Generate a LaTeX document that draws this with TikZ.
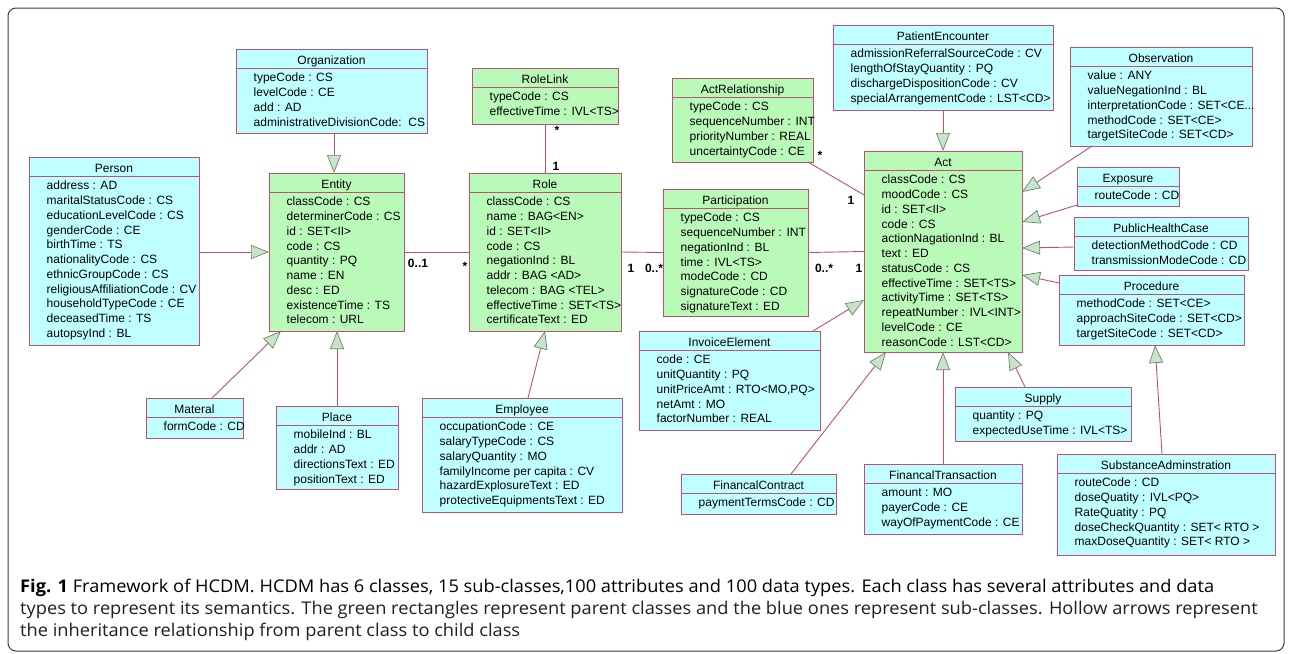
\documentclass[tikz,border=0pt]{standalone}
\usepackage{fontspec}
\usepackage{graphicx}
\setmainfont{Liberation Sans}
\newfontfamily\capfont{Open Sans}
\usetikzlibrary{arrows.meta,calc}

\definecolor{parentfill}{RGB}{185,250,185}
\definecolor{childfill}{RGB}{192,255,255}
\definecolor{umlline}{RGB}{190,80,120}
\definecolor{trifill}{RGB}{200,228,200}
\definecolor{tridraw}{RGB}{110,130,110}
\definecolor{captext}{RGB}{35,31,32}
\definecolor{framecol}{RGB}{60,60,60}

\newsavebox\capbox
\newlength\capw
\newcommand\capsize{\capfont\fontsize{17.5pt}{22pt}\selectfont}

\tikzset{
  clsbox/.style={draw=umlline, line width=0.9pt, inner sep=0pt, outer sep=0pt, anchor=north west},
  pfill/.style={fill=parentfill},
  cfill/.style={fill=childfill},
  sepline/.style={draw=umlline, line width=0.9pt},
  clstitle/.style={inner sep=0pt, anchor=base, font=\fontsize{12pt}{14pt}\selectfont},
  clsattr/.style={inner sep=0pt, anchor=base west, font=\fontsize{12pt}{14pt}\selectfont},
  inh/.style={draw=umlline, line width=0.9pt,
    -{Triangle[length=18pt,width=14pt,fill=trifill,color=tridraw,line width=0.7pt]}},
  assoc/.style={draw=umlline, line width=0.9pt},
  mult/.style={inner sep=0pt, font=\bfseries\fontsize{12pt}{14pt}\selectfont},
  capnode/.style={inner sep=0pt, anchor=base west, text=captext},
}

% #1 name, #2 x, #3 y (top left), #4 width, #5 height, #6 fill style, #7 title, #8 attributes
\newcommand\umlclass[8]{%
  \node[clsbox,#6,minimum width=#4pt,minimum height=#5pt] (#1) at (#2,#3) {};
  \draw[sepline] ([yshift=-19.5pt]#1.north west) -- ([yshift=-19.5pt]#1.north east);
  \node[clstitle] (#1-title) at ([yshift=-15pt]#1.north) {#7};
  \foreach \attr [count=\k] in {#8} {
    \node[clsattr] (#1-attr\k) at ([xshift=17.5pt,yshift={-32.8pt-(\k-1)*14.75pt}]#1.north west) {\attr};
  }
}

\begin{document}
% horizontal scale that brings the first caption line to its full width
\sbox\capbox{\capsize\textbf{Fig. 1} Framework of HCDM. HCDM has 6 classes, 15 sub-classes,100 attributes and 100 data types. Each class has several attributes and data}%
\setlength\capw{\wd\capbox}%
\pgfmathsetmacro\capsx{1194/\capw}%
\begin{tikzpicture}[x=1pt,y=-1pt]
\useasboundingbox (0,0) rectangle (1292,653);
\fill[white] (0,0) rectangle (1292,653);
\draw[framecol, line width=1pt, rounded corners=8pt] (8,8) rectangle (1284,651);

% parent classes
\umlclass{entity}{269}{173}{135}{158}{pfill}{Entity}{classCode : CS, determinerCode : CS, id : SET<II>, code : CS, quantity : PQ, name : EN, desc : ED, existenceTime : TS, telecom : URL}
\umlclass{rolelink}{472}{68}{146}{56}{pfill}{RoleLink}{typeCode : CS, effectiveTime : IVL<TS>}
\umlclass{role}{469}{173}{152}{158}{pfill}{Role}{classCode : CS, name : BAG<EN>, id : SET<II>, code : CS, negationInd : BL, addr : BAG <AD>, telecom : BAG <TEL>, effectiveTime : SET<TS>, certificateText : ED}
\umlclass{actrel}{672}{78}{141}{84}{pfill}{ActRelationship}{typeCode : CS, sequenceNumber : INT, priorityNumber : REAL, uncertaintyCode : CE}
\umlclass{partic}{663}{189}{145}{127}{pfill}{Participation}{typeCode : CS, sequenceNumber : INT, negationInd : BL, time : IVL<TS>, modeCode : CD, signatureCode : CD, signatureText : ED}
\umlclass{act}{864}{151}{158}{201}{pfill}{Act}{classCode : CS, moodCode : CS, id : SET<II>, code : CS, actionNagationInd : BL, text : ED, statusCode : CS, effectiveTime : SET<TS>, activityTime : SET<TS>, repeatNumber : IVL<INT>, levelCode : CE, reasonCode : LST<CD>}

% sub-classes
\umlclass{person}{29}{157}{170}{188}{cfill}{Person}{address : AD, maritalStatusCode : CS, educationLevelCode : CS, genderCode : CE, birthTime : TS, nationalityCode : CS, ethnicGroupCode : CS, religiousAffiliationCode : CV, householdTypeCode : CE, deceasedTime : TS, autopsyInd : BL}
\umlclass{org}{236}{49}{191}{84}{cfill}{Organization}{typeCode : CS, levelCode : CE, add : AD, administrativeDivisionCode:\ \ CS}
\umlclass{materal}{146}{398}{97}{40}{cfill}{Materal}{formCode : CD}
\umlclass{place}{276}{406}{122}{83}{cfill}{Place}{mobileInd : BL, addr : AD, directionsText : ED, positionText : ED}
\umlclass{employee}{422}{398}{200}{114}{cfill}{Employee}{occupationCode : CE, salaryTypeCode : CS, salaryQuantity : MO, familyIncome per capita : CV, hazardExplosureText : ED, protectiveEquipmentsText : ED}
\umlclass{invoice}{639}{331}{181}{99}{cfill}{InvoiceElement}{code : CE, unitQuantity : PQ, {unitPriceAmt : RTO<MO,PQ>}, netAmt : MO, factorNumber : REAL}
\umlclass{fincontract}{681}{474}{155}{40}{cfill}{FinancalContract}{paymentTermsCode : CD}
\umlclass{fintrans}{864}{464}{158}{70}{cfill}{FinancalTransaction}{amount : MO, payerCode : CE, wayOfPaymentCode : CE}
\umlclass{supply}{955}{387}{176}{54}{cfill}{Supply}{quantity : PQ, expectedUseTime : IVL<TS>}
\umlclass{subadm}{1057}{454}{218}{101}{cfill}{SubstanceAdminstration}{routeCode : CD, doseQuatity : IVL<PQ>, RateQuatity : PQ, doseCheckQuantity : SET< RTO >, maxDoseQuantity : SET< RTO >}
\umlclass{pe}{833}{25}{220}{85}{cfill}{PatientEncounter}{admissionReferralSourceCode : CV, lengthOfStayQuantity : PQ, dischargeDispositionCode : CV, specialArrangementCode : LST<CD>}
\umlclass{obs}{1070}{47}{182}{99}{cfill}{Observation}{value : ANY, valueNegationInd : BL, {interpretationCode : SET<CE.{}.{}.}, methodCode : SET<CE>, targetSiteCode : SET<CD>}
\umlclass{expo}{1077}{167}{102}{39}{cfill}{Exposure}{routeCode : CD}
\umlclass{phc}{1074}{217}{174}{53}{cfill}{PublicHealthCase}{detectionMethodCode : CD, transmissionModeCode : CD}
\umlclass{proc}{1059}{275}{185}{70}{cfill}{Procedure}{methodCode : SET<CE>, approachSiteCode : SET<CD>, targetSiteCode : SET<CD>}

% associations
\draw[assoc] (entity.east) -- (role.west);
\draw[assoc] (rolelink.south) -- (role.north);
\draw[assoc] (role.east) -- (partic.west);
\draw[assoc] (partic.east) -- (act.west);
\draw[assoc] ($(actrel.south east)+(-5,0)$) -- ($(act.north west)+(0,44)$);

\node[mult] (m-ent) at (418,263) {0..1};
\node[mult] (m-rol) at (465,266) {*};
\node[mult] (m-rl1) at (557,130) {*};
\node[mult] (m-rl2) at (556,166) {1};
\node[mult] (m-rp1) at (631,268) {1};
\node[mult] (m-rp2) at (654,268) {0..*};
\node[mult] (m-pa1) at (824,268) {0..*};
\node[mult] (m-pa2) at (859,268) {1};
\node[mult] (m-ar1) at (820,155) {*};
\node[mult] (m-ar2) at (851,200) {1};

% inheritance
\coordinate (ent-top) at ($(entity.north west)+(65,0)$);
\draw[inh] (person.east |- entity.west) -- (entity.west);
\draw[inh] (org.south -| ent-top) -- (ent-top);
\draw[inh] (place.north) -- (place.north |- entity.south);
\draw[inh] ($(materal.north west)+(66,0)$) -- ($(entity.south west)+(12,0)$);
\draw[inh] ($(employee.north west)+(106,0)$) -- (role.south);
\draw[inh] ($(invoice.north east)+(-7,0)$) -- ($(act.north west)+(0,149)$);
\draw[inh] (pe.south) -- (act.north);
\draw[inh] ($(obs.south west)+(22,0)$) -- ($(act.north east)+(0,41)$);
\draw[inh] ($(expo.south west)+(0,-1)$) -- ($(act.north east)+(0,71)$);
\draw[inh] ($(phc.north west)+(0,30)$) -- ($(act.north east)+(0,97)$);
\draw[inh] ($(proc.north west)+(0,8)$) -- ($(act.north east)+(0,124)$);
\draw[inh] ($(subadm.north west)+(105,0)$) -- ($(proc.south west)+(96,0)$);
\draw[inh] ($(supply.north west)+(70,0)$) -- ($(act.south west)+(144,0)$);
\draw[inh] (fintrans.north) -- (act.south);
\draw[inh] ($(fincontract.north west)+(110,0)$) -- ($(act.south west)+(22,0)$);

% caption
\node[capnode] (cap1) at (20,592) {\scalebox{\capsx}[1]{\usebox\capbox}};
\node[capnode] (cap2) at (20,614) {\scalebox{\capsx}[1]{\capsize types to represent its semantics. The green rectangles represent parent classes and the blue ones represent sub-classes. Hollow arrows represent}};
\node[capnode] (cap3) at (20,636) {\scalebox{\capsx}[1]{\capsize the inheritance relationship from parent class to child class}};
\end{tikzpicture}
\end{document}
